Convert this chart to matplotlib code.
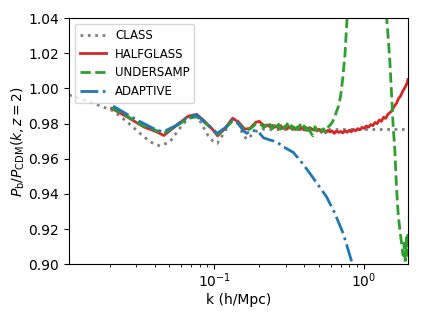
import matplotlib
matplotlib.use("Agg")
import matplotlib.pyplot as plt
import numpy as np

# =============================================================================
# values
# =============================================================================

class_k = [0.0107, 0.0156, 0.0211, 0.0261, 0.0319, 0.0372, 0.0434, 0.0506, 0.0575,
           0.0670, 0.0763, 0.0844, 0.0911, 0.0987, 0.1048, 0.112, 0.121, 0.134,
           0.145, 0.156, 0.165, 0.178, 0.192, 0.21, 0.25, 0.3, 0.5, 1.0, 2.0]
class_r = [0.9962, 0.9915, 0.9872, 0.9810, 0.9744, 0.9696, 0.9672, 0.9696, 0.9763,
           0.9830, 0.9848, 0.9781, 0.9730, 0.9696, 0.9687, 0.9725, 0.9772, 0.9829,
           0.9800, 0.9734, 0.9710, 0.9734, 0.9757, 0.9768, 0.9765, 0.9766, 0.9765, 0.9766, 0.9766]

# low-k part (BAO wiggles), shared k for halfglass and undersamp
bao_k = [0.0206, 0.0261, 0.0337, 0.0411, 0.0460, 0.0545, 0.0670, 0.0763, 0.0844,
         0.0962, 0.1053, 0.118, 0.1323, 0.1447, 0.160, 0.173, 0.190]

# noisy high-k part
hi_k = [0.200, 0.207, 0.214, 0.221, 0.228, 0.236, 0.244, 0.252, 0.260, 0.269,
        0.278, 0.287, 0.297, 0.307, 0.317, 0.328, 0.339, 0.350, 0.362, 0.374,
        0.386, 0.399, 0.413, 0.426, 0.441, 0.456, 0.471, 0.487, 0.503, 0.520,
        0.537, 0.555, 0.574, 0.593, 0.613, 0.634, 0.655, 0.677, 0.700, 0.723,
        0.747, 0.772, 0.798, 0.825, 0.853, 0.881, 0.911, 0.941, 0.973, 1.006,
        1.039, 1.074, 1.110, 1.148, 1.186, 1.226, 1.267, 1.309, 1.353, 1.399,
        1.446, 1.494, 1.544, 1.596, 1.650, 1.705, 1.762, 1.821, 1.882, 1.945, 1.970]

half_bao = [0.9886, 0.9838, 0.9781, 0.9753, 0.9732, 0.9781, 0.9842, 0.9852, 0.9820,
            0.9772, 0.9730, 0.9772, 0.9829, 0.9810, 0.9768, 0.9772, 0.9808]
half_hi = [0.9812, 0.9800, 0.9790, 0.9784, 0.9792, 0.9781, 0.9789, 0.9778, 0.9786, 0.9774,
           0.9788, 0.9772, 0.9783, 0.9769, 0.9782, 0.9771, 0.9779, 0.9766, 0.9781, 0.9770,
           0.9777, 0.9763, 0.9776, 0.9761, 0.9774, 0.9764, 0.9770, 0.9757, 0.9768, 0.9750,
           0.9763, 0.9748, 0.9761, 0.9752, 0.9758, 0.9744, 0.9757, 0.9749, 0.9755, 0.9746,
           0.9759, 0.9750, 0.9762, 0.9753, 0.9766, 0.9758, 0.9771, 0.9764, 0.9778, 0.9772,
           0.9786, 0.9779, 0.9794, 0.9788, 0.9806, 0.9799, 0.9820, 0.9812, 0.9836, 0.9829,
           0.9852, 0.9862, 0.9875, 0.9898, 0.9915, 0.9942, 0.9958, 0.9985, 1.0005, 1.0030, 1.0050]

under_bao = [0.9890, 0.9842, 0.9785, 0.9760, 0.9745, 0.9780, 0.9830, 0.9838, 0.9812,
             0.9770, 0.9738, 0.9770, 0.9815, 0.9800, 0.9762, 0.9768, 0.9798]
under_hi_k = hi_k[:42] + [0.85, 1.0, 1.2, 1.35, 1.42, 1.45, 1.49, 1.53, 1.57, 1.61,
                          1.65, 1.70, 1.75, 1.79, 1.83, 1.86, 1.89, 1.92, 1.95, 1.97]
under_hi = [0.9800, 0.9790, 0.9778, 0.9792, 0.9774, 0.9795, 0.9770, 0.9790, 0.9772, 0.9796,
            0.9768, 0.9790, 0.9772, 0.9798, 0.9766, 0.9788, 0.9770, 0.9795, 0.9764, 0.9792,
            0.9768, 0.9786, 0.9760, 0.9790, 0.9748, 0.9730, 0.9782, 0.9762, 0.9776, 0.9754,
            0.9770, 0.9750, 0.9778, 0.9790, 0.9805, 0.9830, 0.9866, 0.9900, 0.9960, 1.0060,
            1.0190, 1.0400,
            1.1000, 1.1500, 1.1200, 1.0700, 1.0400, 1.0300, 1.0160, 0.9970, 0.9780, 0.9650,
            0.9440, 0.9270, 0.9180, 0.9110, 0.9050, 0.9120, 0.9020, 0.9150, 0.9050, 0.9180]

adapt_k = [0.0211, 0.0304, 0.0411, 0.0457, 0.0545, 0.0670, 0.0763, 0.0844, 0.0962,
           0.1045, 0.118, 0.132, 0.145, 0.156, 0.165, 0.178, 0.197, 0.213, 0.236,
           0.261, 0.289, 0.337, 0.3735, 0.436, 0.495, 0.563, 0.64, 0.727, 0.786, 0.848]
adapt_r = [0.9899, 0.9820, 0.9763, 0.9753, 0.9785, 0.9840, 0.9848, 0.9815, 0.9775,
           0.9744, 0.9775, 0.9820, 0.9800, 0.9759, 0.9744, 0.9763, 0.9753, 0.9719, 0.9706,
           0.9696, 0.9668, 0.9636, 0.9592, 0.9516, 0.9450, 0.9383, 0.9289, 0.9175, 0.9080, 0.8985]

# =============================================================================
# plotting
# =============================================================================

fig = plt.figure(figsize=(4.21, 3.16), dpi=100)
ax1 = fig.add_axes([0.164, 0.164, 0.805, 0.779])

ax1.plot(class_k, class_r, color='tab:gray', linestyle=':', linewidth=2, label='CLASS')
ax1.plot(bao_k + hi_k, half_bao + half_hi, color='tab:red', linestyle='-',
         linewidth=2, label='HALFGLASS')
ax1.plot(bao_k + under_hi_k, under_bao + under_hi, color='tab:green', linestyle='--',
         linewidth=2, label='UNDERSAMP')
ax1.plot(adapt_k, adapt_r, color='tab:blue', linestyle='-.', linewidth=2, label='ADAPTIVE')

ax1.set_xscale('log')
ax1.set_xlim([0.0107, 1.97])
ax1.set_ylim([0.90, 1.04])
ax1.set_yticks(np.arange(0.90, 1.041, 0.02))
ax1.tick_params(axis='x', which='major', pad=1.5)

ax1.set_xlabel('k (h/Mpc)', labelpad=2.5)
ax1.set_ylabel(r'$P_{\rm b}/P_{\rm CDM}(k, z=2)$', labelpad=1)
ax1.legend(loc='upper left', fontsize=8.5, handlelength=2.2)

plt.savefig("out.png", dpi=100)
